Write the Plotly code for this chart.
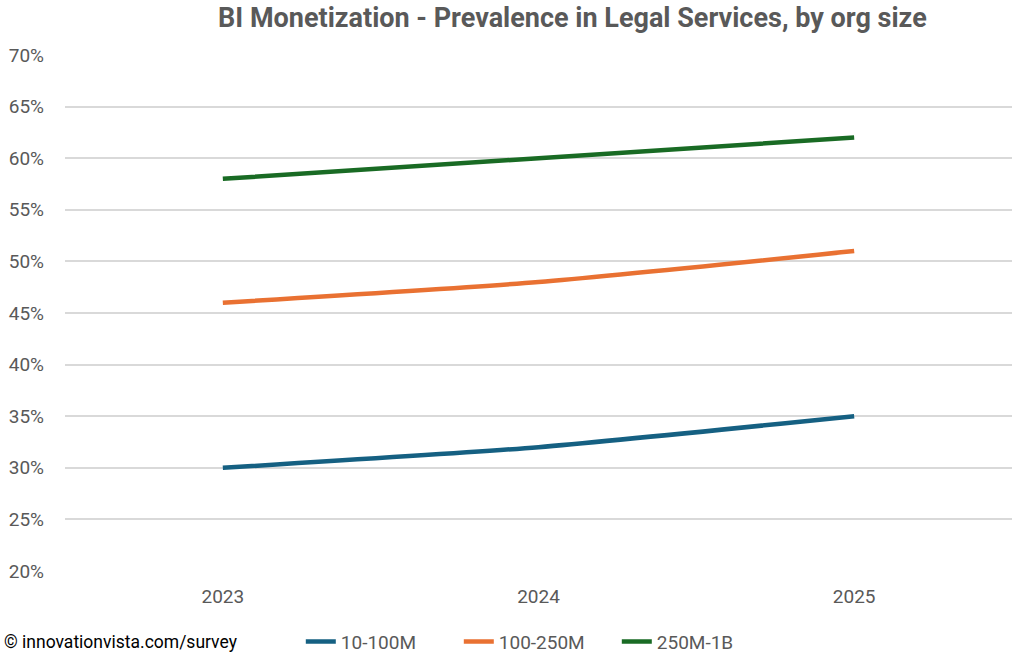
import plotly.graph_objects as go

years = ["2023", "2024", "2025"]
series_names = ["10-100M", "100-250M", "250M-1B"]
s1 = [0.30, 0.32, 0.35]
s2 = [0.46, 0.48, 0.51]
s3 = [0.58, 0.60, 0.62]
colors = ["#156082", "#E97132", "#196B24"]
y_ticks = [0.20, 0.25, 0.30, 0.35, 0.40, 0.45, 0.50, 0.55, 0.60, 0.65, 0.70]
y_labels = ["20%", "25%", "30%", "35%", "40%", "45%", "50%", "55%", "60%", "65%", "70%"]

font_main = "Roboto, sans-serif"
gray = "#595959"

fig = go.Figure()
for name, vals, c in zip(series_names, [s1, s2, s3], colors):
    fig.add_trace(go.Scatter(x=years, y=vals, name=name, mode="lines",
                             line=dict(color=c, width=4.5, shape="spline", smoothing=0.6)))

fig.update_layout(
    width=1024, height=662,
    paper_bgcolor="white", plot_bgcolor="white",
    margin=dict(l=65, r=12, t=55, b=91, autoexpand=False),
    title=dict(text="<b>BI Monetization - Prevalence in Legal Services, by org size</b>",
               x=0.559, xanchor="center", xref="container", yref="container",
               y=0.973, yanchor="middle",
               font=dict(family=font_main, size=27, color=gray)),
    font=dict(family=font_main, size=16, color=gray),
    xaxis=dict(type="category", range=[-0.5, 2.5], showgrid=False, showline=False,
               ticks="", tickfont=dict(size=19, color=gray), automargin=False,
               ticklabelstandoff=12),
    yaxis=dict(range=[0.20, 0.70], tickvals=y_ticks, ticktext=y_labels,
               showgrid=True, gridcolor="#D9D9D9", gridwidth=1.5, zeroline=False,
               showline=False, ticks="", tickfont=dict(size=19, color=gray),
               ticklabelstandoff=20, automargin=False),
    legend=dict(orientation="h", x=0.249, xanchor="left", y=-0.137, yanchor="middle",
                font=dict(size=19, color=gray), tracegroupgap=0, entrywidth=113),
    showlegend=True,
)
fig.add_annotation(text="© innovationvista.com/survey", xref="paper", yref="paper",
                   x=-0.067, xanchor="left", y=-0.137, yanchor="middle", showarrow=False,
                   font=dict(family=font_main, size=17.5, color="#000000"))

fig.write_html("out.html", config={"displayModeBar": False},
               post_script="document.body.style.margin='0';document.body.style.padding='0';")
